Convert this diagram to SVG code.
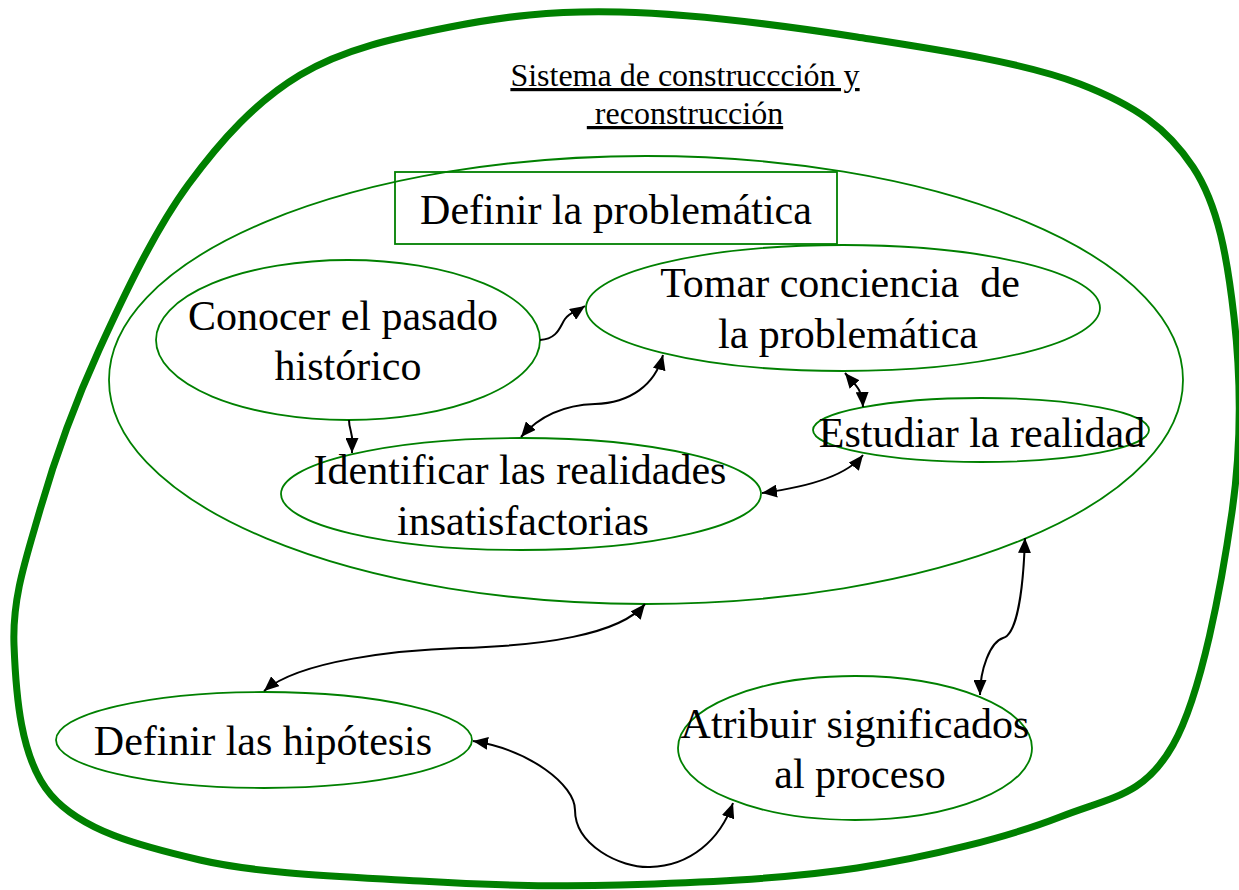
<svg xmlns="http://www.w3.org/2000/svg" width="1239" height="890" viewBox="0 0 1239 890">
<style>
.t{font-family:"Liberation Serif","Times New Roman",serif;fill:#000;text-anchor:middle}
.n{font-size:42px}
.sh{fill:none;stroke:#008000;stroke-width:1.8}
.c{fill:none;stroke:#000;stroke-width:2}
</style>
<defs>
<marker id="ah" markerUnits="userSpaceOnUse" markerWidth="15" markerHeight="13" refX="15" refY="6.5" orient="auto-start-reverse" viewBox="0 0 15 13">
<path d="M0,0 L15,6.5 L0,13 z" fill="#000"/>
</marker>
</defs>
<rect width="1239" height="890" fill="#fff"/>
<g id="outer">
<path d="M620,12 C687.8,13.7 780.3,25 857,37 C933.7,49 1024,62.3 1080,84 C1136,105.7 1167.3,128.2 1193,167 C1218.7,205.8 1227.5,259.5 1234,317 C1240.5,374.5 1242.2,440.7 1232,512 C1221.8,583.3 1201.7,694.2 1173,745 C1144.3,795.8 1112.7,796.5 1060,817 C1007.3,837.5 930.3,856.7 857,868 C783.7,879.3 692.8,882.8 620,885 C547.2,887.2 490,885.2 420,881 C350,876.8 261.5,874.3 200,860 C138.5,845.7 82,830.8 51,795 C20,759.2 15.8,692.5 14,645 C12.2,597.5 25.8,559.2 40,510 C54.2,460.8 74.3,404.2 99,350 C123.7,295.8 154.5,230.8 188,185 C221.5,139.2 256.3,101.3 300,75 C343.7,48.7 396.7,37.5 450,27 C503.3,16.5 552.2,10.3 620,12 Z" fill="none" stroke="#008000" stroke-width="7"/>
</g>
<g id="title">
<text class="t" x="685" y="86" font-size="32" text-decoration="underline">Sistema de construccción y</text>
<text class="t" x="685" y="124" font-size="32" text-decoration="underline" xml:space="preserve" style="white-space:pre"> reconstrucción</text>
</g>
<g id="container">
<ellipse class="sh" cx="646" cy="380" rx="537" ry="224" stroke-width="1.5"/>
</g>
<g id="definir-problematica">
<rect class="sh" x="395" y="172" width="442" height="72"/>
<text class="t" x="616" y="224" font-size="42">Definir la problemática</text>
</g>
<g id="conocer">
<ellipse class="sh" cx="348" cy="340" rx="192" ry="80"/>
<text class="t n" x="343" y="330">Conocer el pasado</text>
<text class="t n" x="348" y="380">histórico</text>
</g>
<g id="tomar">
<ellipse class="sh" cx="843" cy="308" rx="257" ry="63"/>
<text class="t n" x="840" y="297" xml:space="preserve" style="white-space:pre">Tomar conciencia  de</text>
<text class="t n" x="848" y="348">la problemática</text>
</g>
<g id="estudiar">
<ellipse class="sh" cx="981" cy="430" rx="168" ry="32"/>
<text class="t n" x="982" y="447">Estudiar la realidad</text>
</g>
<g id="identificar">
<ellipse class="sh" cx="521" cy="494" rx="240" ry="56"/>
<text class="t n" x="520" y="484">Identificar las realidades</text>
<text class="t n" x="523" y="535">insatisfactorias</text>
</g>
<g id="hipotesis">
<ellipse class="sh" cx="264" cy="740" rx="208" ry="48" stroke="#004000"/>
<text class="t n" x="263" y="755">Definir las hipótesis</text>
</g>
<g id="atribuir">
<ellipse class="sh" cx="855" cy="748" rx="177" ry="72"/>
<text class="t n" x="855" y="738">Atribuir significados</text>
<text class="t n" x="860" y="788">al proceso</text>
</g>
<g id="connectors">
<path class="c" d="M540,340 C558,339 560,326 565,319 S576,312 585,306" marker-end="url(#ah)"/>
<path class="c" d="M349,420 C349,430 353,433 352,442 L352,453" marker-end="url(#ah)"/>
<path class="c" d="M521,437 C540,415 565,405 595,404 C630,403 655,385 663,355" marker-start="url(#ah)" marker-end="url(#ah)"/>
<path class="c" d="M845,373 C855,385 862,388 863,407" marker-start="url(#ah)" marker-end="url(#ah)"/>
<path class="c" d="M762,493 C800,488 845,478 863,455" marker-start="url(#ah)" marker-end="url(#ah)"/>
<path class="c" d="M264,691 C300,660 400,650 460,648 C540,646 620,635 645,604" marker-start="url(#ah)" marker-end="url(#ah)"/>
<path class="c" d="M473,741 C530,750 575,785 575,810 C575,845 620,868 650,867 C690,866 720,840 733,803" marker-start="url(#ah)" marker-end="url(#ah)"/>
<path class="c" d="M1025,538 C1023,600 1015,635 1003,638 C990,642 980,670 980,695" marker-start="url(#ah)" marker-end="url(#ah)"/>
</g>
</svg>
